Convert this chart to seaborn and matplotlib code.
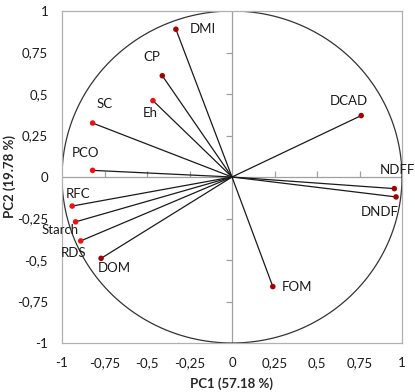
import numpy as np
import pandas as pd
import matplotlib
matplotlib.use("Agg")
import matplotlib.pyplot as plt
import seaborn as sns

# Loadings (PC1, PC2)
variables = ["DMI", "CP", "Eh", "SC", "PCO", "RFC", "Starch", "RDS", "DOM",
             "FOM", "DCAD", "NDFF", "DNDF"]
pc1 = [-0.33, -0.41, -0.465, -0.82, -0.82, -0.94, -0.92, -0.89, -0.77,
       0.24, 0.76, 0.955, 0.965]
pc2 = [0.89, 0.61, 0.46, 0.325, 0.04, -0.175, -0.27, -0.385, -0.49,
       -0.66, 0.37, -0.07, -0.12]
dark = [True, True, False, False, False, False, False, False, True,
        True, True, True, True]
# label positions (centre of text)
lab_x = [-0.17, -0.47, -0.48, -0.75, -0.86, -0.905, -1.01, -0.93, -0.69,
         0.385, 0.685, 0.975, 0.87]
lab_y = [0.89, 0.72, 0.385, 0.44, 0.145, -0.10, -0.32, -0.46, -0.55,
         -0.66, 0.46, 0.04, -0.21]

ticks = [-1, -0.75, -0.5, -0.25, 0, 0.25, 0.5, 0.75, 1]
tick_labels = ["-1", "-0,75", "-0,5", "-0,25", "0", "0,25", "0,5", "0,75", "1"]

df = pd.DataFrame({"var": variables, "PC1": pc1, "PC2": pc2, "dark": dark})

sns.set_style("white")
plt.rcParams["font.family"] = ["Lato", "DejaVu Sans"]

fig = plt.figure(figsize=(4.15, 3.92), dpi=100)
ax = fig.add_axes([62 / 415, 1 - 343 / 392, 340 / 415, 332 / 392])

# unit circle
t = np.linspace(0, 2 * np.pi, 400)
ax.plot(np.cos(t), np.sin(t), color="#333333", lw=0.9, zorder=2)

# centre axes with ticks
ax.axhline(0, color="#a0a0a0", lw=0.9, zorder=1)
ax.axvline(0, color="#a0a0a0", lw=0.9, zorder=1)
inner = [v for v in ticks if v not in (-1, 0, 1)]
ax.plot(inner, [0] * len(inner), ls="none", marker=2, ms=4, color="#a0a0a0", mew=0.9)
ax.plot([0] * len(inner), inner, ls="none", marker=0, ms=4, color="#a0a0a0", mew=0.9)

# loading vectors
for x, y in zip(df["PC1"], df["PC2"]):
    ax.plot([0, x], [0, y], color="#1a1a1a", lw=0.9, zorder=3)

sns.scatterplot(data=df, x="PC1", y="PC2", hue="dark",
                palette={True: "#a00000", False: "#ee1111"},
                s=16, edgecolor="none", legend=False, ax=ax, zorder=4)

for name, x, y in zip(variables, lab_x, lab_y):
    ax.text(x, y, name, ha="center", va="center", fontsize=9.5,
            color="#1a1a1a", clip_on=False)

ax.set_xlim(-1, 1)
ax.set_ylim(-1, 1)
ax.set_xticks(ticks)
ax.set_xticklabels(tick_labels)
ax.set_yticks(ticks)
ax.set_yticklabels(tick_labels)
ax.tick_params(length=0, labelsize=9.5, pad=10, colors="#1a1a1a")
for s in ax.spines.values():
    s.set_color("#b0b0b0")
    s.set_linewidth(0.9)

ax.set_xlabel("PC1 (57.18 %)", fontsize=9.5, fontweight="bold")
ax.set_ylabel("PC2 (19.78 %)", fontsize=9.5, fontweight="bold")
ax.xaxis.set_label_coords(0.5, -0.102)
ax.yaxis.set_label_coords(-0.135, 0.5)

fig.savefig("out.png", dpi=100)
